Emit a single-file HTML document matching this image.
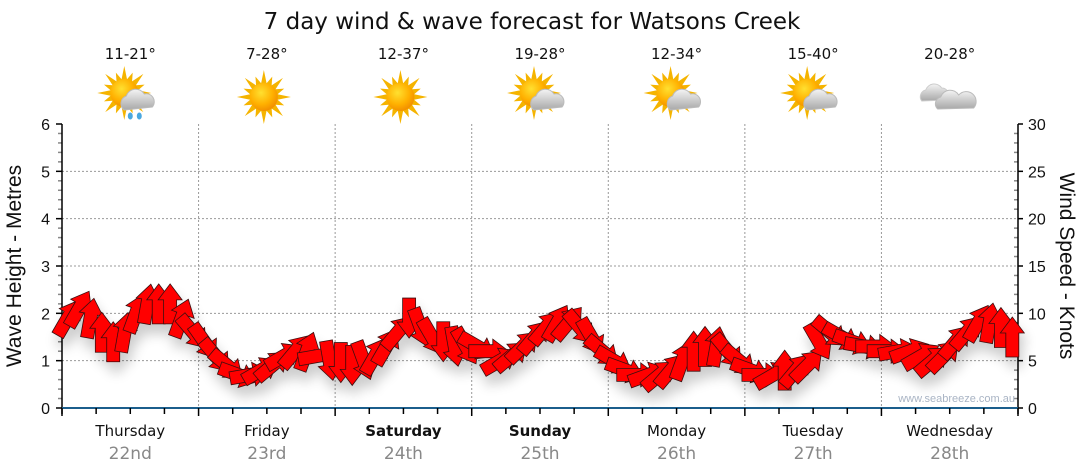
<!DOCTYPE html>
<html><head><meta charset="utf-8"><style>
html,body{margin:0;padding:0;background:#fff;}
svg{display:block;font-family:"DejaVu Sans","Liberation Sans",sans-serif;}
</style></head><body>
<svg id="chart" width="1080" height="475" viewBox="0 0 1080 475">
<defs>
<radialGradient id="sunG" cx="0.4" cy="0.35" r="0.7"><stop offset="0" stop-color="#ffe030"/><stop offset="0.6" stop-color="#ffb000"/><stop offset="1" stop-color="#f08a00"/></radialGradient>
<linearGradient id="cloudG" x1="0" y1="0" x2="0" y2="1"><stop offset="0" stop-color="#f4f4f4"/><stop offset="1" stop-color="#a8a8a8"/></linearGradient>
<filter id="sh" x="-50%" y="-50%" width="200%" height="200%"><feGaussianBlur in="SourceAlpha" stdDeviation="6"/><feOffset dx="3" dy="10"/><feComponentTransfer><feFuncA type="linear" slope="0.2"/></feComponentTransfer><feMerge><feMergeNode/><feMergeNode in="SourceGraphic"/></feMerge></filter>
</defs>
<text x="532" y="29" text-anchor="middle" font-size="23" fill="#111">7 day wind &amp; wave forecast for Watsons Creek</text>
<g id="grid"></g>
<g id="axes"></g>
<g id="icons"></g>
<g id="arrows" filter="url(#sh)"></g>
<text x="1015" y="402" text-anchor="end" font-size="11" fill="#a9b4c4" font-family="Liberation Sans, sans-serif">www.seabreeze.com.au</text>
<text transform="translate(21,266) rotate(-90)" text-anchor="middle" font-size="21" fill="#111" font-family="Liberation Sans, sans-serif">Wave Height - Metres</text>
<text transform="translate(1060,266) rotate(90)" text-anchor="middle" font-size="21" fill="#111" font-family="Liberation Sans, sans-serif">Wind Speed - Knots</text>
</svg>
<script>
const days = ["Thursday","Friday","Saturday","Sunday","Monday","Tuesday","Wednesday"];
const dates = ["22nd","23rd","24th","25th","26th","27th","28th"];
const boldDays = [false,false,true,true,false,false,false];
const temps = ["11-21°","7-28°","12-37°","19-28°","12-34°","15-40°","20-28°"];
const weather = ["showers","sun","sun","partly","partly","partly","cloud"];
const waveTicks = [0,1,2,3,4,5,6];
const windTicks = [0,5,10,15,20,25,30];
const windSpeed = [
9.5,10.5,9.5,8,7,8,10,11,11,11,9.5,8,
7,5.5,4.5,3.5,3.5,4,4.5,5.5,6,6,5.5,5,
4.8,4.5,5,5.5,6.5,8,9.5,8.5,7.5,7,6.5,6.5,
6.5,6,5,5.5,6.5,7.5,8.5,9,9,8.5,7.5,6,
5,4,3.5,3.5,3.5,4,5,6,6.5,6.5,6,5,
4,3.5,3.5,4,4,4.5,7,8,7.5,7,6.5,6.5,
6,6,6,5.5,5,5.5,7,8,9,9,8.5,7.5];
const windDir = [
30,30,10,0,0,10,20,10,0,0,20,140,
145,140,130,110,80,60,50,60,40,20,80,170,
180,180,160,30,30,40,180,160,150,180,170,150,
120,90,60,50,45,40,40,30,40,140,150,130,
120,110,90,70,50,40,20,0,0,10,140,130,
110,90,60,0,40,45,150,130,120,110,100,90,
90,80,70,60,50,45,40,40,30,10,0,0];

const NS="http://www.w3.org/2000/svg";
const L=62,R=1018,T=124,B=408;
const dayW=(R-L)/7;
const xT=h=>L+h*dayW/24;
const yWave=m=>B-(B-T)*m/6;
const yWind=k=>B-(B-T)*k/30;
function mk(tag,attrs,parent){const e=document.createElementNS(NS,tag);for(const k in attrs)e.setAttribute(k,attrs[k]);parent.appendChild(e);return e;}
const grid=document.getElementById('grid'),axes=document.getElementById('axes'),icons=document.getElementById('icons'),arrows=document.getElementById('arrows');

waveTicks.forEach(m=>{
 if(m>0&&m<6){const g=mk('line',{x1:L,x2:R,y1:yWave(m),y2:yWave(m),stroke:'#999','stroke-dasharray':'2,2'},grid);
 
 }
 const t=mk('text',{x:50,y:yWave(m)+6,'text-anchor':'end','font-size':16,fill:'#111','font-family':'Liberation Sans, sans-serif'},axes);t.textContent=m;
 
 
});
for(let i=0;i<=30;i++){const y=B-(B-T)*i/30;mk('line',{x1:L-(i%5?4:6),x2:L,y1:y,y2:y,stroke:i%5?'#888':'#000','stroke-width':1.5},axes);
 mk('line',{x1:R-(i%5?4:0),x2:R+(i%5?0:5),y1:y,y2:y,stroke:i%5?'#888':'#000','stroke-width':1.5},axes);}
windTicks.forEach(k=>{const t=mk('text',{x:1028,y:yWind(k)+6,'font-size':16,fill:'#111','font-family':'Liberation Sans, sans-serif'},axes);t.textContent=k;
 
 });
for(let d=1;d<7;d++){const g=mk('line',{x1:L+d*dayW,x2:L+d*dayW,y1:T,y2:B,stroke:'#999','stroke-dasharray':'2,2'},grid);
 
 }
mk('line',{x1:L,x2:L,y1:T,y2:B+6,stroke:'#000','stroke-width':1.5},axes);
mk('line',{x1:R,x2:R,y1:T,y2:B+6,stroke:'#000','stroke-width':1.5},axes);
mk('line',{x1:L,x2:R,y1:B,y2:B,stroke:'#1b5e8c','stroke-width':2},axes);
for(let q=0;q<=28;q++){const x=L+q*dayW/4;mk('line',{x1:x,x2:x,y1:B,y2:B+(q%4?6:8),stroke:'#000','stroke-width':1.5},axes);}

days.forEach((d,i)=>{const cx=L+dayW*(i+0.5);
 const t=mk('text',{x:cx,y:436,'text-anchor':'middle','font-size':15,fill:'#111','font-weight':boldDays[i]?'bold':'normal'},axes);t.textContent=d;
 
 
 const t2=mk('text',{x:cx,y:459,'text-anchor':'middle','font-size':17,fill:'#888'},axes);t2.textContent=dates[i];
 
 
 const t3=mk('text',{x:cx,y:59,'text-anchor':'middle','font-size':15,fill:'#111'},icons);t3.textContent=temps[i];
 
 
 const g=mk('g',{transform:`translate(${cx},97)`},icons);
 
 
 const w=weather[i];
 if(w!=='cloud'){let sx=w==='sun'?-3:-6,sy=w==='sun'?0:-4;
  let pts='';for(let k=0;k<32;k++){const a=k*Math.PI/16,r=k%2?14:(k%4?22:27);pts+=(sx+r*Math.sin(a))+','+(sy-r*Math.cos(a))+' ';}
  mk('polygon',{points:pts,fill:'#f5b400'},g);mk('circle',{cx:sx,cy:sy,r:14,fill:'url(#sunG)'},g);}
 if(w==='partly'||w==='showers'){mk('path',{d:'M-6,13 a8,8 0 0 1 2,-14 a10,10 0 0 1 18,-2 a8,8 0 0 1 8,13 z',fill:'url(#cloudG)',stroke:'#bbb'},g);}
 if(w==='showers'){mk('ellipse',{cx:0,cy:19,rx:2.5,ry:3.5,fill:'#4aa8e0'},g);mk('ellipse',{cx:9,cy:19,rx:2.5,ry:3.5,fill:'#4aa8e0'},g);}
 if(w==='cloud'){mk('path',{d:'M-28,4 a7,7 0 0 1 4,-11 a9,9 0 0 1 16,-2 a7,7 0 0 1 5,12 z',fill:'url(#cloudG)',stroke:'#ccc'},g);
  mk('path',{d:'M-12,12 a7,7 0 0 1 3,-12 a10,10 0 0 1 18,-2 a8,8 0 0 1 15,13 z',fill:'url(#cloudG)',stroke:'#bbb'},g);}
});

windSpeed.forEach((s,i)=>{
 const x=xT(i*2+1),y=yWind(s);
 const p=mk('path',{d:'M-6.5,20 L6.5,20 L6.5,-4 L12,-4 L0,-20 L-12,-4 L-6.5,-4 Z',fill:'#ff0000',stroke:'#3a1010','stroke-width':0.8,transform:`translate(${x},${y}) rotate(${windDir[i]})`},arrows);
 
 
});
</script>
</body></html>
